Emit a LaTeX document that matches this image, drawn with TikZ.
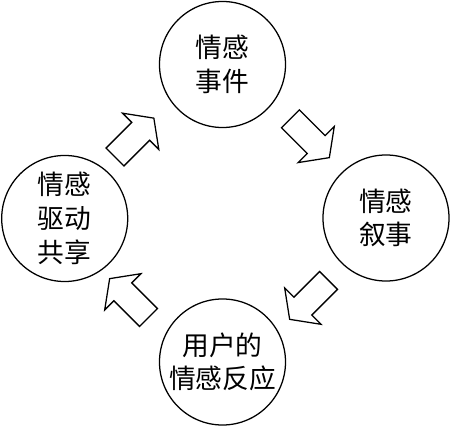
\documentclass[tikz,border=0pt]{standalone}
\usepackage{fontspec}
\newfontfamily\cjk{Noto Sans CJK SC}
\usetikzlibrary{shapes.arrows}

\begin{document}
\begin{tikzpicture}[x=0.025cm,y=0.025cm,
		stage/.style={draw,circle,line width=0.9pt,minimum size=3.15cm,inner sep=0pt,align=center,font=\cjk\fontsize{19pt}{24pt}\selectfont},
		flow/.style={draw,single arrow,line width=0.9pt,minimum height=1.375cm,inner xsep=0pt,inner ysep=0.3cm,single arrow head extend=0.325cm,single arrow tip angle=108,anchor=tail}]
		\useasboundingbox (0,0) rectangle (450,427);
		\node[stage] (E1) at (222.5,362.5) {情感\\事件};
		\node[stage] (E2) at (386,209) {情感\\叙事};
		\node[stage] (E3) at (222.5,65) {用户的\\情感反应};
		\node[stage] (E4) at (64.7,208.5) {情感\\驱动\\共享};
%
		\node[flow,rotate=-45] (A1) at (290,308.7) {};
		\node[flow,rotate=-135] (A2) at (329,147) {};
		\node[flow,rotate=135] (A3) at (149,109) {};
		\node[flow,rotate=45] (A4) at (114.5,269.5) {};
\end{tikzpicture}
\end{document}
